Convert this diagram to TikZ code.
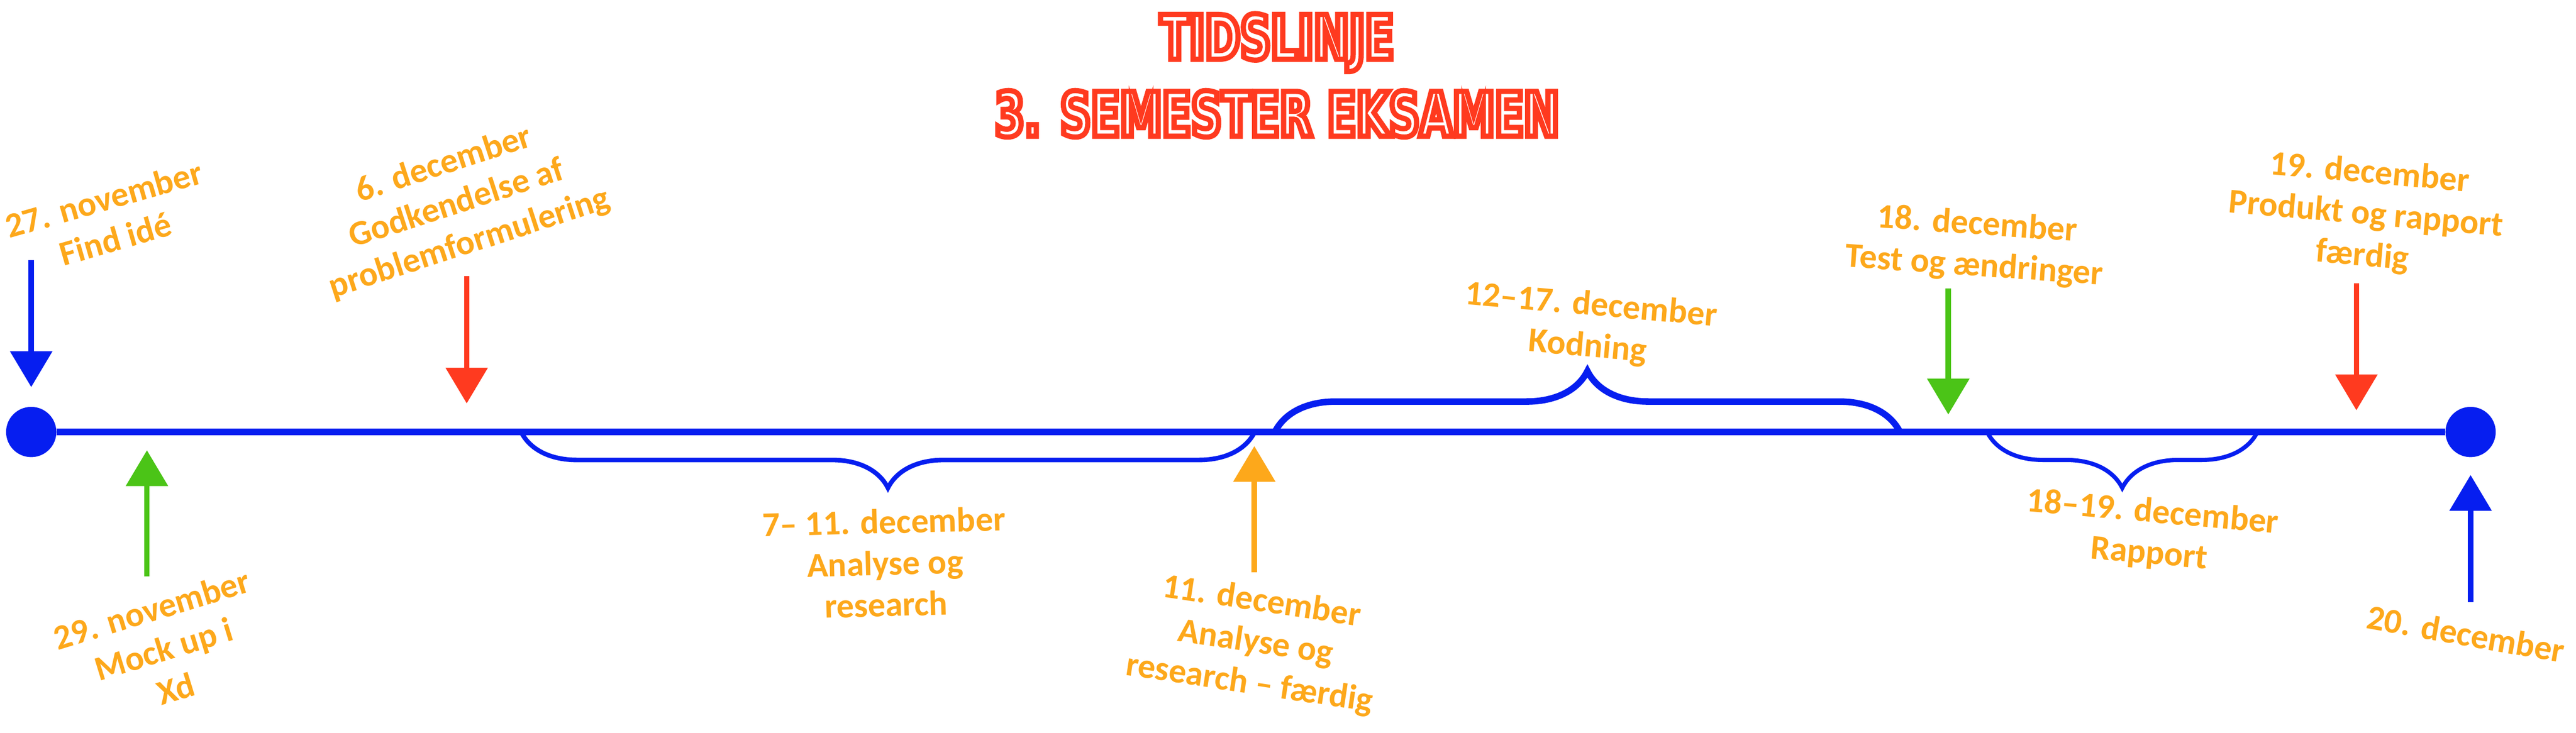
\documentclass[tikz,border=0pt]{standalone}
\usepackage{fontspec}
\usepackage{xcolor}
\usetikzlibrary{arrows.meta,decorations.pathreplacing}
\setmainfont{Carlito}
\newfontfamily\titlefont[FakeStretch=0.69,FakeBold=8.5]{DejaVu Sans}
\definecolor{tlblue}{RGB}{6,30,240}
\definecolor{tlred}{RGB}{255,58,31}
\definecolor{tlgreen}{RGB}{75,196,23}
\definecolor{tlorange}{RGB}{253,168,27}
\newcommand{\redrand}{\special{pdf:literal direct 1 0.227 0.122 RG}}

\begin{document}
\begin{tikzpicture}[
	tline/.style={tlblue,line width=0.17cm},
	dot/.style={circle,fill=tlblue,minimum size=1.32cm,inner sep=0pt},
	pil/.style={line width=0.14cm,-{Triangle[width=1.08cm,length=0.94cm]}},
	klamme/.style={tlblue,decorate,decoration={brace,amplitude=#1}},
	lbl/.style={text=tlorange,align=center,inner sep=0pt,font=\fontsize{26}{31}\selectfont\bfseries},
	titel/.style={text=white,align=center,inner sep=0pt,font=\titlefont\fontsize{46}{57.5}\selectfont\bfseries}
]
	\useasboundingbox[fill=white] (0,0) rectangle (67.67,-19.25) ;
	\node[titel] (titel) at (33.55,-1.98) {\redrand TIDSLINJE\\\redrand 3. SEMESTER EKSAMEN} ;

	\node[dot] (start) at (00.82,-11.35) {} ;
	\node[dot] (slut) at (64.90,-11.35) {} ;
	\draw[tline] (start) -- (slut) ;

	\coordinate (k1v) at (13.69,-11.35) ;
	\coordinate (k1h) at (32.96,-11.35) ;
	\coordinate (k2v) at (33.49,-11.35) ;
	\coordinate (k2h) at (49.91,-11.35) ;
	\coordinate (k3v) at (52.20,-11.35) ;
	\coordinate (k3h) at (59.30,-11.35) ;
	\draw[klamme=1.47cm,line width=0.12cm] (k1h) -- (k1v) ;
	\draw[klamme=1.60cm,line width=0.17cm] (k2v) -- (k2h) ;
	\draw[klamme=1.47cm,line width=0.11cm] (k3h) -- (k3v) ;

	\coordinate (p1a) at (00.82,-06.84) ;
	\coordinate (p1b) at (00.82,-10.17) ;
	\draw[pil,tlblue] (p1a) -- (p1b) ;
	\coordinate (p2a) at (12.26,-07.25) ;
	\coordinate (p2b) at (12.26,-10.60) ;
	\draw[pil,tlred] (p2a) -- (p2b) ;
	\coordinate (p3a) at (03.86,-15.15) ;
	\coordinate (p3b) at (03.86,-11.83) ;
	\draw[pil,tlgreen] (p3a) -- (p3b) ;
	\coordinate (p4a) at (32.95,-15.04) ;
	\coordinate (p4b) at (32.95,-11.72) ;
	\draw[pil,tlorange] (p4a) -- (p4b) ;
	\coordinate (p5a) at (51.18,-07.58) ;
	\coordinate (p5b) at (51.18,-10.89) ;
	\draw[pil,tlgreen] (p5a) -- (p5b) ;
	\coordinate (p6a) at (61.90,-07.44) ;
	\coordinate (p6b) at (61.90,-10.78) ;
	\draw[pil,tlred] (p6a) -- (p6b) ;
	\coordinate (p7a) at (64.90,-15.82) ;
	\coordinate (p7b) at (64.90,-12.48) ;
	\draw[pil,tlblue] (p7a) -- (p7b) ;

	\node[lbl,rotate=16] (nov27) at (02.88,-05.75) {27. november\\Find idé} ;
	\node[lbl,rotate=18] (dec6) at (12.00,-05.37) {6. december\\Godkendelse af\\problemformulering} ;
	\node[lbl,rotate=17] (nov29) at (04.30,-17.05) {29. november\\Mock up i\\Xd} ;
	\node[lbl,rotate=1.5] (dec711) at (23.25,-14.79) {7– 11. december\\Analyse og\\research} ;
	\node[lbl,rotate=-8.5] (dec11) at (32.98,-16.90) {11. december\\Analyse og\\research – færdig} ;
	\node[lbl,rotate=-5] (dec1217) at (41.75,-08.58) {12–17. december\\Kodning} ;
	\node[lbl,rotate=-4] (dec18) at (51.90,-06.46) {18. december\\Test og ændringer} ;
	\node[lbl,rotate=-5] (dec19) at (62.15,-05.65) {19. december\\Produkt og rapport\\færdig} ;
	\node[lbl,rotate=-5] (dec1819) at (56.50,-14.02) {18–19. december\\Rapport} ;
	\node[lbl,rotate=-10] (dec20) at (64.78,-16.65) {20. december} ;
\end{tikzpicture}
\end{document}
